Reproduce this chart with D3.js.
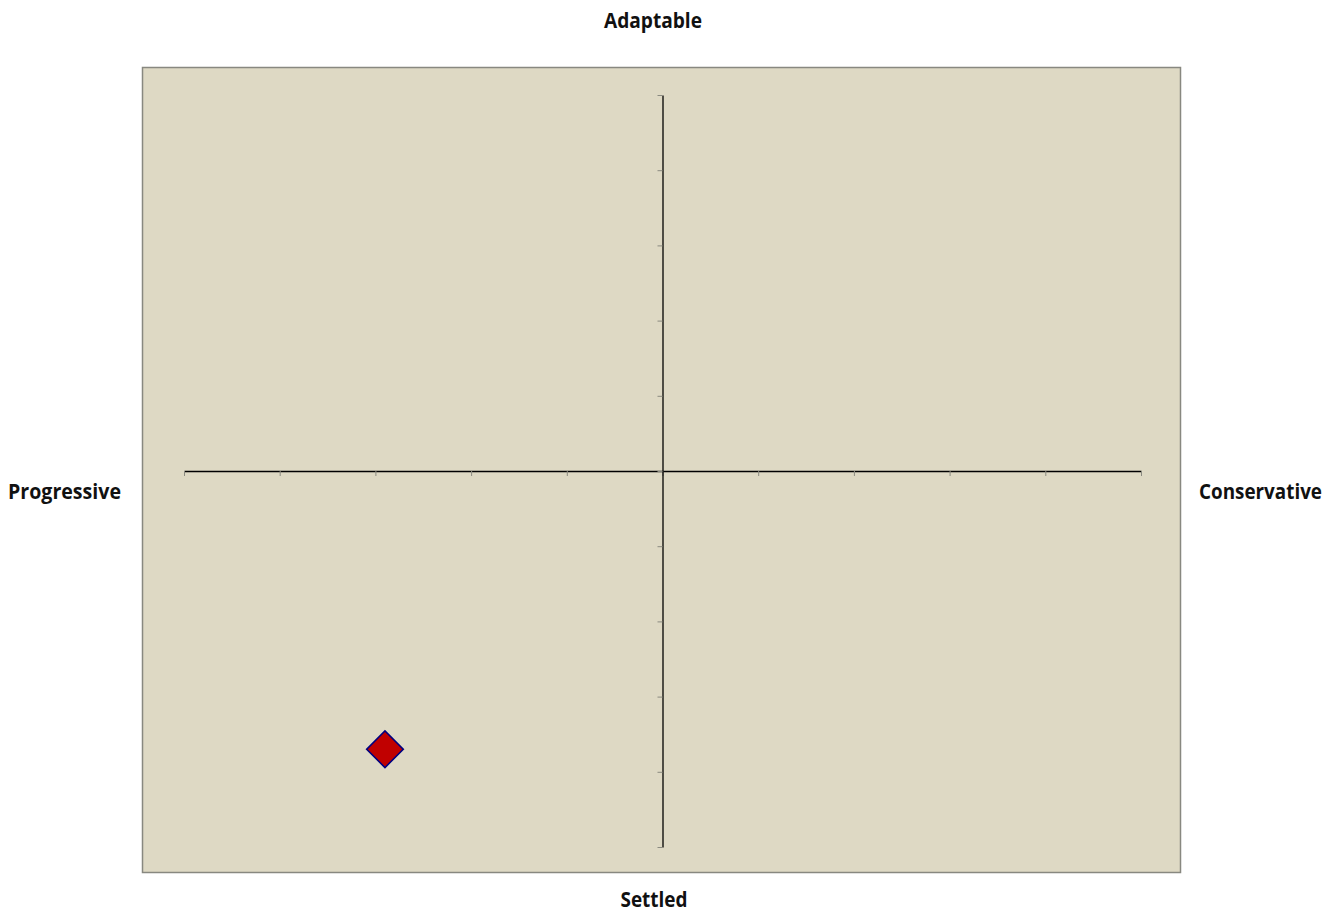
<!DOCTYPE html>
<html><head><meta charset="utf-8">
<script src="https://cdn.jsdelivr.net/npm/d3@7"></script>
<style>body{margin:0;background:#fff}svg{display:block}</style>
</head><body>
<svg id="c" width="1332" height="913"></svg>
<script>
const xTicks = [-5,-4,-3,-2,-1,0,1,2,3,4,5];
const yTicks = [-5,-4,-3,-2,-1,0,1,2,3,4,5];
const pointX = [-2.9];
const pointY = [-3.7];
const axisLabels = ["Adaptable","Settled","Progressive","Conservative"];

const svg = d3.select("#c");
const font = "'Open Sans', sans-serif";
svg.append("rect").attr("x",142.5).attr("y",67.5).attr("width",1038).attr("height",805)
  .attr("fill","#DED9C4").attr("stroke","#888880").attr("stroke-width",1.5);

const x = d3.scaleLinear().domain([-5,5]).range([184,1141]);
const y = d3.scaleLinear().domain([-5,5]).range([847,95]);

const gx = svg.append("g").attr("transform",`translate(0,${y(0)})`)
  .call(d3.axisBottom(x).tickValues(xTicks).tickSize(5).tickSizeOuter(0).tickFormat(""));
gx.select(".domain").attr("stroke","#000").attr("stroke-width",1.3);
gx.selectAll(".tick line").attr("stroke","#8a8a80");

const gy = svg.append("g").attr("transform",`translate(${x(0)},0)`)
  .call(d3.axisLeft(y).tickValues(yTicks).tickSize(5).tickSizeOuter(0).tickFormat(""));
gy.select(".domain").attr("stroke","#000").attr("stroke-width",1.3);
gy.selectAll(".tick line").attr("stroke","#8a8a80");

svg.selectAll("path.pt").data(pointX.map((v,i)=>[v,pointY[i]])).enter().append("path")
  .attr("class","pt")
  .attr("d", d3.symbol().type(d3.symbolSquare).size(670))
  .attr("transform", d=>`translate(${x(d[0])},${y(d[1])}) rotate(45)`)
  .attr("fill","#C00000").attr("stroke","#000080").attr("stroke-width",1.6);

const lab = (t,px,py,w)=>svg.append("text").text(t).attr("x",px).attr("y",py)
  .attr("font-family",font).attr("font-weight",700)
  .attr("font-size",20.5).attr("fill","#111")
  .attr("textLength",w).attr("lengthAdjust","spacingAndGlyphs");
lab(axisLabels[0],604,28,98);
lab(axisLabels[1],620.5,907,67);
lab(axisLabels[2],8,499,113);
lab(axisLabels[3],1199,499,123);
</script>
</body></html>
